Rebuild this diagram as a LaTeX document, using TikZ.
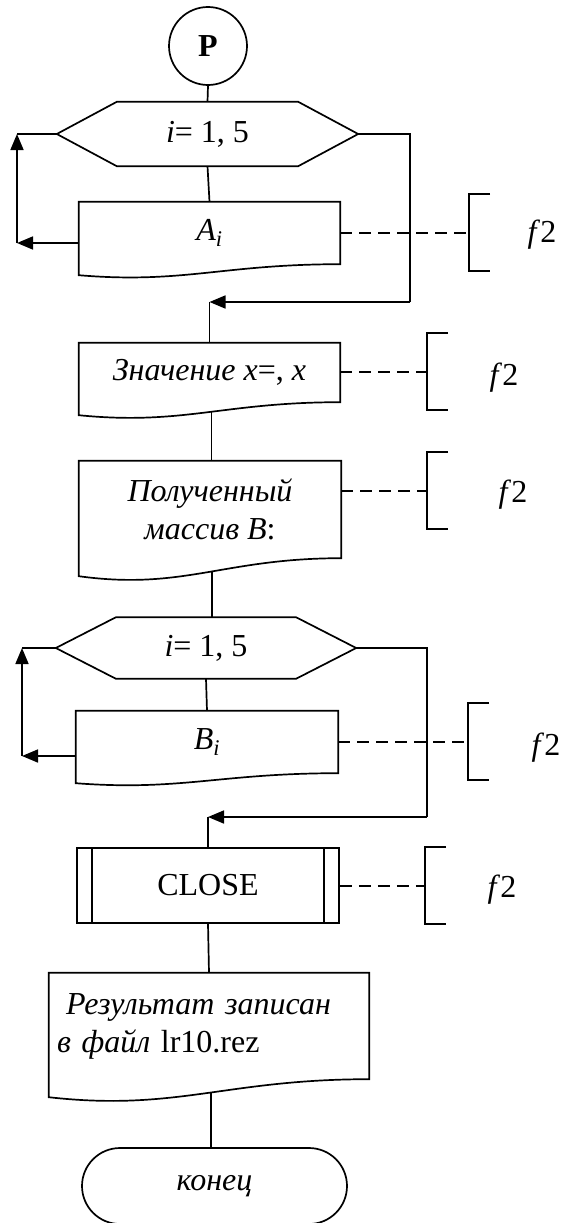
\documentclass[tikz,border=0pt]{standalone}
\usepackage{fontspec}
\setmainfont{Liberation Serif}[ItalicFont={Liberation Serif Italic},BoldFont={Liberation Serif Bold}]
\usetikzlibrary{arrows.meta,calc}

% hexagon (loop header) drawn round a named node
\newcommand\hexoutline[1]{%
  \draw[line] (#1.west) -- ($(#1.north west)+(60,0)$) -- ($(#1.north east)+(-60,0)$)
    -- (#1.east) -- ($(#1.south east)+(-60,0)$) -- ($(#1.south west)+(60,0)$) -- cycle;}
% document symbol: #1 node, #2 drop of the left corner, #3 point on the wavy edge
\newcommand\docoutline[3]{%
  \draw[line] (#1.south east)
    .. controls ($(#1.south west)!0.55!(#1.south east)$)
       and ($(#1.south west)!0.4!(#1.south east)+(0,1.8*#2)$)
    .. coordinate[pos=0.47] (#3) ($(#1.south west)+(0,#2)$)
    -- (#1.south west) -- (#1.north west) -- (#1.north east) -- cycle;}
% comment bracket "[" at a named coordinate
\newcommand\fbracket[1]{%
  \draw[line] ($(#1)+(21,-39)$) -- ($(#1)+(0,-39)$) -- ($(#1)+(0,38)$) -- ($(#1)+(21,38)$);}

\begin{document}
\begin{tikzpicture}[x=1pt,y=-1pt,
  line/.style={line width=1.7pt},
  flow/.style={line, -{Triangle[length=16pt,width=13pt]}},
  link/.style={line width=1.6pt, dash pattern=on 12pt off 7pt},
  blk/.style={inner sep=0pt, align=center},
  every node/.style={font=\fontsize{32}{38}\selectfont},
]
\useasboundingbox (0,0) rectangle (565,1223);
\clip (0,0) rectangle (565,1223);

% ---- blocks ----
\node[draw, line, circle, minimum size=78pt, inner sep=0pt] (start) at (208,46) {\textbf{P}};
\node[blk, minimum width=301pt, minimum height=64pt] (h1) at (207.5,134) {\textit{i}= 1, 5};
\node[blk, minimum width=261pt, minimum height=62pt] (A) at (209.5,233) {\textit{A}\textsubscript{\textit{i}}};
\node[blk, minimum width=261pt, minimum height=59pt] (Z) at (209.5,372.5) {\textit{Значение x}=, \textit{x}};
\node[blk, minimum width=262pt, minimum height=97pt] (Pm) at (210,509.5) {\textit{Полученный}\\\textit{массив B}:};
\node[blk, minimum width=300pt, minimum height=61pt] (h2) at (206,648) {\textit{i}= 1, 5};
\node[blk, minimum width=262pt, minimum height=62pt] (B) at (207,742) {\textit{B}\textsubscript{\textit{i}}};
\node[draw, line, inner sep=0pt, minimum width=262pt, minimum height=75pt] (C) at (208,885.5) {CLOSE};
\node[blk, minimum width=320pt, minimum height=106pt, text width=304pt, align=left] (R) at (209,1026)
  {\hspace*{9pt}\textit{Результат записан}\\\textit{в файл} lr10.rez};
\node[draw, line, rounded corners=38pt, inner sep=0pt, minimum width=265pt, minimum height=76pt] (T) at (214.5,1186) {\textit{конец}};

\hexoutline{h1}
\hexoutline{h2}
\docoutline{A}{11}{Ab}
\docoutline{Z}{13}{Zb}
\docoutline{Pm}{18}{Pmb}
\docoutline{B}{10}{Bb}
\docoutline{R}{18}{Rb}
\draw[line] ($(C.north west)+(16,0)$) -- ($(C.south west)+(16,0)$);
\draw[line] ($(C.north east)+(-16,0)$) -- ($(C.south east)+(-16,0)$);

% ---- main flow ----
\draw[line] (start.south) -- (h1.north);
\draw[line] (h1.south) -- (A.north);

% first loop
\coordinate (l1a) at (17,243);
\coordinate (l1b) at (l1a |- h1.west);
\draw[flow] (A.west |- l1a) -- (l1a);
\draw[flow] (l1a) -- (l1b);
\draw[line] (l1b) -- (h1.west);
\coordinate (r1a) at (410,302);
\coordinate (j1) at (r1a -| Z.north);
\draw[line] (h1.east) -- (h1.east -| r1a) -- (r1a);
\draw[flow] (r1a) -- (j1);
\draw[line] (j1) -- (Z.north);

\draw[line] (Zb) -- (Zb |- Pm.north);
\draw[line] (Pmb) -- (Pmb |- h2.north);
\draw[line] (h2.south) -- (B.north);

% second loop
\coordinate (l2a) at (22,756);
\coordinate (l2b) at (l2a |- h2.west);
\draw[flow] (B.west |- l2a) -- (l2a);
\draw[flow] (l2a) -- (l2b);
\draw[line] (l2b) -- (h2.west);
\coordinate (r2a) at (427,817);
\coordinate (j2) at (r2a -| C.north);
\draw[line] (h2.east) -- (h2.east -| r2a) -- (r2a);
\draw[flow] (r2a) -- (j2);
\draw[line] (j2) -- (C.north);

\draw[line] (C.south) -- (R.north);
\draw[line] (Rb) -- (Rb |- T.north);

% ---- comments f2 ----
\coordinate (k1) at (469,233);
\coordinate (k2) at (427,372);
\coordinate (k3) at (427,491);
\coordinate (k4) at (468,742);
\coordinate (k5) at (425,886);
\draw[link] (k1 -| A.east) -- (k1);
\draw[link] (k2 -| Z.east) -- (k2);
\draw[link] (k3 -| Pm.east) -- (k3);
\draw[link] (k4 -| B.east) -- (k4);
\draw[link] (k5 -| C.east) -- (k5);
\fbracket{k1}
\fbracket{k2}
\fbracket{k3}
\fbracket{k4}
\fbracket{k5}
\node (f1) at (542,235) {\textit{f}2};
\node (f2) at (504,378) {\textit{f}2};
\node (f3) at (513,495) {\textit{f}2};
\node (f4) at (546,748) {\textit{f}2};
\node (f5) at (502,890) {\textit{f}2};
\end{tikzpicture}
\end{document}
